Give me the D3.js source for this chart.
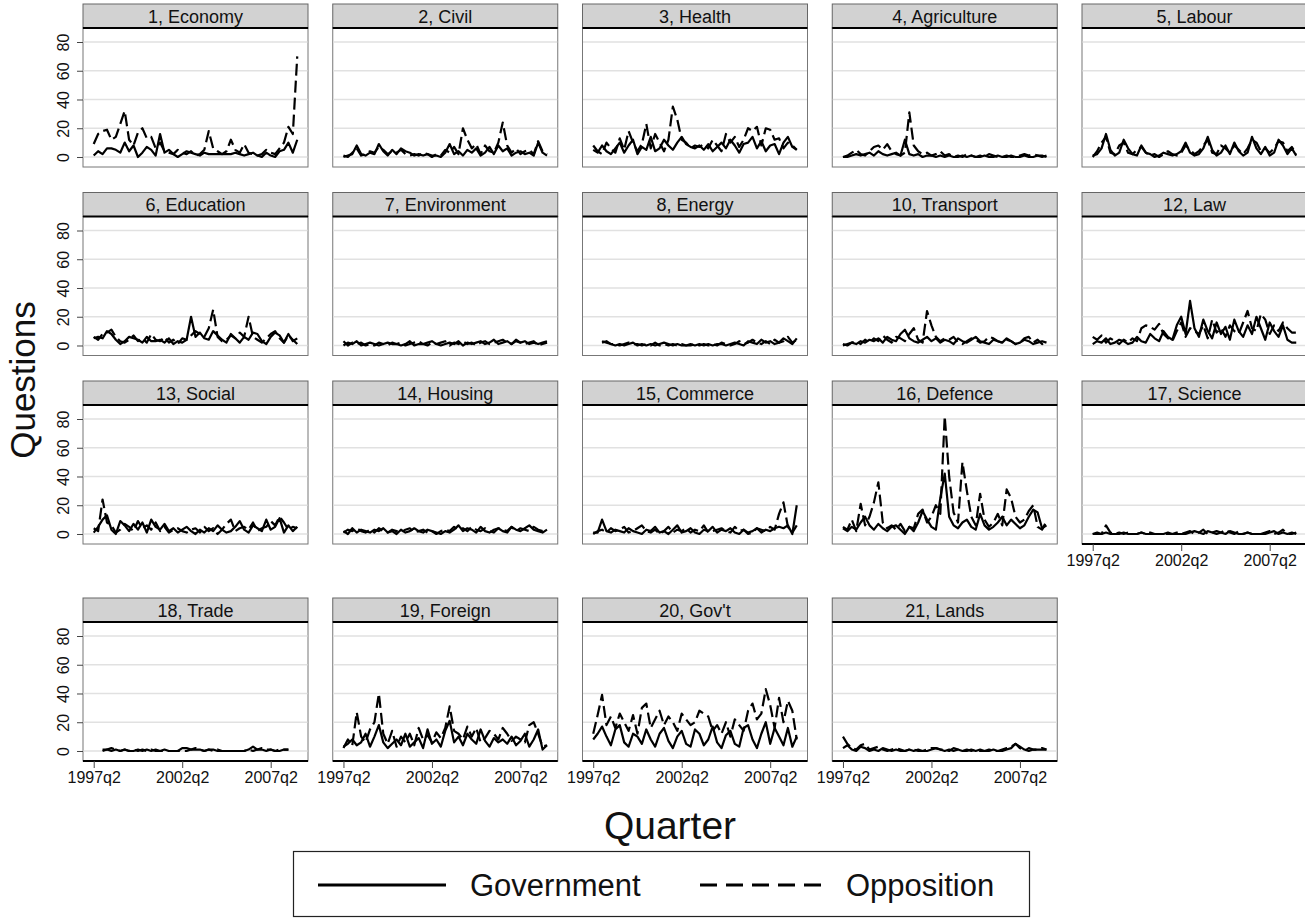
<!DOCTYPE html>
<html>
<head>
<meta charset="utf-8">
<script src="https://cdn.jsdelivr.net/npm/d3@7/dist/d3.min.js"></script>
<style>
  body { margin: 0; background: #fff; }
  svg { display: block; font-family: "Liberation Sans", Arial, sans-serif; }
</style>
</head>
<body>
<svg width="1305" height="921"></svg>
<script>
// quarters 1997q2 .. 2008q4 (47 quarters), index 0..46
const nQuarters = 47;
const tickQuarters = [0, 20, 40];
const tickLabels = ["1997q2", "2002q2", "2007q2"];
const yTicks = [0, 20, 40, 60, 80];

const topics = [
  "1, Economy", "2, Civil", "3, Health", "4, Agriculture", "5, Labour",
  "6, Education", "7, Environment", "8, Energy", "10, Transport", "12, Law",
  "13, Social", "14, Housing", "15, Commerce", "16, Defence", "17, Science",
  "18, Trade", "19, Foreign", "20, Gov't", "21, Lands"
];

const n = null;

const govEconomy = [1,4,2,6,6,5,3,10,4,8, 0,3,7,5,1,16,3,5,2,0, 2,4,3,2,1,3,2,2,2,2, 2,2,3,2,1,2,3,1,0,3, 1,0,4,5,10,3,12];
const oppEconomy = [9,16,18,19,12,14,23,32,12,8, 17,20,13,14,6,10,4,3,2,5, 3,2,4,1,2,5,18,6,4,2, 4,12,5,3,9,3,2,1,2,5, 3,2,6,10,21,16,70];
const govCivil = [0,1,2,8,2,1,3,2,9,4, 1,5,2,6,4,3,1,2,1,2, 1,1,0,3,9,2,4,1,5,3, 6,1,3,7,2,8,4,6,1,3, 4,2,3,1,10,3,1];
const oppCivil = [1,0,3,6,1,2,4,3,7,5, 2,4,3,5,2,1,2,1,3,2, 0,2,1,5,3,7,2,20,12,6, 9,2,8,4,3,10,24,8,3,6, 2,4,5,2,11,4,2];
const govHealth = [5,3,8,4,2,6,10,3,8,12, 2,7,5,14,4,6,12,8,5,10, 14,9,7,6,8,5,9,4,7,10, 6,12,8,3,9,10,14,6,11,4, 8,9,2,10,14,7,5];
const oppHealth = [8,4,2,10,6,3,13,5,18,10, 4,9,23,6,16,10,4,12,35,26, 12,10,6,8,7,9,6,12,8,4, 16,10,14,7,12,20,18,21,8,20, 19,12,13,6,10,8,5];
const govAgriculture = [0,0,1,2,1,2,3,1,4,2, 1,2,3,1,12,2,1,2,0,1, 1,0,1,0,1,0,0,1,0,1, 0,0,1,0,0,1,0,0,1,0, 0,1,0,0,1,1,0];
const oppAgriculture = [0,1,3,5,2,1,4,7,8,5, 9,4,2,1,3,31,8,4,2,3, 1,2,4,1,2,0,1,0,2,1, 0,1,0,2,1,0,0,1,0,0, 1,2,1,2,1,0,1];
const govLabour = [1,2,6,16,5,1,3,12,6,2, 1,8,3,2,0,1,3,2,1,2, 4,10,3,1,2,6,14,5,1,3, 8,2,10,4,1,3,14,6,2,7, 1,3,12,8,2,6,1];
const oppLabour = [0,4,10,14,3,2,8,10,3,2, 5,7,3,1,2,0,2,4,2,1, 3,8,5,2,4,8,12,3,2,8, 6,3,8,5,2,6,12,10,4,6, 3,6,11,10,4,7,2];
const govEducation = [5,6,5,10,8,4,1,3,6,5, 4,2,6,3,3,4,2,5,1,3, 2,4,20,6,9,5,4,10,7,4, 2,8,5,2,6,4,9,8,3,1, 6,9,7,2,8,3,5];
const oppEducation = [6,4,8,9,11,6,3,2,4,7, 3,5,2,8,4,3,6,2,4,1, 5,4,7,10,8,6,12,25,6,3, 4,7,5,9,6,20,6,4,2,5, 8,10,5,2,7,4,1];
const govEnvironment = [0,2,1,3,0,1,2,1,0,1, 2,1,1,0,1,3,0,1,1,2, 3,1,0,1,2,1,3,0,2,1, 2,3,1,2,4,1,2,3,1,4, 2,3,1,2,1,2,3];
const oppEnvironment = [3,0,2,1,2,0,1,0,2,1, 0,2,1,2,0,1,2,3,1,0, 2,1,2,3,0,2,1,3,1,2, 0,2,3,1,2,3,4,2,1,3, 2,1,2,3,0,1,2];
const govEnergy = [n,n,3,2,1,0,1,0,1,2, 0,1,0,1,0,1,2,1,0,1, 0,0,1,0,1,0,1,0,1,1, 0,1,2,1,0,3,2,1,4,2, 3,1,2,5,3,1,5];
const oppEnergy = [n,n,2,3,1,1,0,1,2,1, 1,0,1,0,2,0,1,0,1,0, 1,0,0,1,0,1,0,1,0,2, 1,0,1,3,1,2,4,2,1,3, 1,4,2,3,6,2,4];
const govTransport = [0,1,2,1,3,2,4,3,5,2, 6,4,3,8,11,5,3,2,4,6, 3,5,2,4,3,1,5,3,2,4, 6,3,2,1,4,3,2,5,3,1, 2,4,3,1,2,3,2];
const oppTransport = [1,0,2,3,1,4,2,5,3,7, 4,2,6,5,3,8,12,4,2,24, 14,6,3,5,4,6,2,1,3,5, 4,2,3,6,5,3,2,4,3,1, 2,5,6,2,4,1,3];
const govLaw = [1,3,2,5,1,2,4,3,1,2, 6,3,2,8,5,3,10,6,4,14, 20,8,31,12,6,18,10,5,16,8, 13,4,18,10,6,14,8,20,12,4, 16,10,6,14,4,2,2];
const oppLaw = [6,4,7,2,5,3,1,4,2,5, 3,12,14,13,11,15,8,5,3,10, 16,6,12,10,8,14,5,18,9,12, 6,14,10,8,16,24,12,10,22,18, 8,14,10,16,12,9,9];
const govSocial = [1,5,10,13,3,0,9,6,2,7, 3,8,1,10,5,3,7,2,4,1, 3,5,2,0,3,1,4,2,6,3, 1,2,5,9,3,1,6,4,2,10, 3,5,11,1,6,2,5];
const oppSocial = [4,2,24,8,6,1,3,7,5,2, 9,4,6,3,8,2,5,1,3,4, 2,1,3,4,1,5,2,4,0,3, 7,10,2,4,5,3,8,2,4,5, 9,6,12,8,3,5,4];
const govHousing = [2,0,4,1,3,2,1,3,2,4, 1,2,0,3,1,2,4,2,1,3, 2,1,0,2,1,3,6,2,4,3, 1,5,2,1,3,4,2,1,5,3, 2,4,6,3,2,1,3];
const oppHousing = [1,3,2,4,2,1,3,1,4,2, 1,3,2,1,3,4,1,2,3,1, 2,0,2,3,2,5,3,4,2,5, 3,2,4,2,1,4,3,2,5,2, 4,3,2,5,3,2,3];
const govCommerce = [1,1,10,2,1,3,2,1,4,2, 1,0,3,2,5,1,2,0,3,6, 1,2,4,1,0,3,2,5,1,3, 2,4,1,0,3,1,2,4,1,3, 2,4,5,4,6,0,20];
const oppCommerce = [0,2,3,1,4,2,3,5,1,2, 4,6,2,1,3,0,2,5,1,3, 2,4,1,3,2,6,1,2,3,4, 2,1,5,2,3,0,1,4,3,2, 5,3,14,22,5,1,6];
const govDefence = [4,2,5,3,8,12,6,3,7,4, 2,5,6,3,0,5,2,8,16,10, 5,3,25,42,12,6,4,8,10,5, 3,14,6,3,5,8,12,6,10,7, 4,6,12,17,15,4,6];
const oppDefence = [5,3,10,2,21,6,12,22,36,8, 4,6,3,7,2,5,4,14,17,8, 12,20,14,82,40,15,8,50,30,12, 6,28,10,5,8,14,6,31,25,12, 8,10,16,20,5,3,9];
const govScience = [0,0,0,1,0,0,0,1,0,0, 0,1,0,0,0,0,0,1,0,0, 0,0,1,2,1,0,2,1,0,1, 0,2,1,0,0,1,0,0,0,0, 1,2,0,1,0,1,0];
const oppScience = [0,1,0,6,1,0,1,0,1,0, 0,1,0,1,0,0,0,0,0,1, 0,1,2,0,1,3,0,1,2,1, 3,1,0,2,0,1,0,0,0,1, 2,0,1,3,0,0,1];
const govTrade = [n,n,1,1,0,1,0,1,0,0, 1,0,1,0,1,0,1,0,0,0, 2,2,1,1,1,0,1,1,0,0, 0,0,0,0,0,1,3,1,1,0, 1,0,0,1,1,n,n];
const oppTrade = [n,n,0,1,2,1,0,1,0,1, 0,1,0,1,0,0,0,0,0,0, 0,0,1,2,1,0,1,0,1,0, 0,0,0,0,0,1,0,1,2,1, 1,0,1,1,1,n,n];
const govForeign = [3,5,8,4,6,12,3,10,18,6, 2,5,8,4,12,3,6,9,2,15, 5,8,3,14,21,6,10,4,12,8, 5,15,7,3,9,6,8,5,10,4, 7,12,3,8,15,1,4];
const oppForeign = [2,8,4,27,10,6,15,20,40,12, 5,14,3,10,6,12,4,16,8,11, 6,13,9,16,31,14,12,8,17,10, 16,6,9,14,12,8,16,12,7,10, 8,6,18,20,12,3,4];
const govGovt = [8,12,17,10,4,15,18,6,3,12, 10,5,15,8,3,12,16,7,2,10, 14,5,3,15,12,4,8,17,6,2, 11,14,5,3,16,18,8,2,12,20, 5,16,10,4,16,3,10];
const oppGovt = [12,25,39,18,24,16,26,20,14,25, 12,30,33,16,22,28,18,24,20,14, 26,22,18,20,28,26,24,14,18,12, 20,10,22,18,14,28,33,22,26,43, 32,16,37,20,35,28,8];
const govLands = [2,4,1,0,3,2,0,1,0,2, 1,0,1,0,0,1,0,1,0,0, 1,2,1,0,1,0,1,0,0,1, 0,1,0,0,1,0,0,1,2,5, 3,1,0,1,1,1,1];
const oppLands = [10,5,2,1,4,5,1,2,3,1, 0,1,2,1,0,1,1,0,0,1, 2,2,1,1,0,2,1,0,1,0, 1,0,0,1,0,0,1,2,3,5, 2,0,2,1,1,2,1];

const govSeries = [govEconomy, govCivil, govHealth, govAgriculture, govLabour,
  govEducation, govEnvironment, govEnergy, govTransport, govLaw,
  govSocial, govHousing, govCommerce, govDefence, govScience,
  govTrade, govForeign, govGovt, govLands];
const oppSeries = [oppEconomy, oppCivil, oppHealth, oppAgriculture, oppLabour,
  oppEducation, oppEnvironment, oppEnergy, oppTransport, oppLaw,
  oppSocial, oppHousing, oppCommerce, oppDefence, oppScience,
  oppTrade, oppForeign, oppGovt, oppLands];

const panels = topics.map((t, k) => ({ title: t, gov: govSeries[k], opp: oppSeries[k], k }));

const svg = d3.select("svg");

const panelW = 225;
const headerH = 24;
const plotH = 139;
const colStep = 249.75;
const left0 = 83;
const rowTops = [4, 192.5, 381, 598];

const x = d3.scaleLinear().domain([-2.42, 48.43]).range([0, panelW]);
const y = d3.scaleLinear().domain([-6.96, 89.74]).range([plotH, 0]);

const line = d3.line()
  .defined((d) => d != null)
  .x((d, i) => x(i))
  .y((d) => y(d));

const g = svg.selectAll("g.panel")
  .data(panels)
  .join("g")
  .attr("class", "panel")
  .attr("transform", (d) => `translate(${left0 + (d.k % 5) * colStep}, ${rowTops[Math.floor(d.k / 5)]})`);

g.each(function (d) {
  const p = d3.select(this);

  // header strip
  p.append("rect")
    .attr("x", 0).attr("y", 0)
    .attr("width", panelW).attr("height", headerH)
    .attr("fill", "#d2d2d2").attr("stroke", "#666").attr("stroke-width", 1);
  p.append("text")
    .attr("x", panelW / 2).attr("y", 18.5)
    .attr("text-anchor", "middle")
    .attr("font-size", 18)
    .attr("fill", "#111")
    .text(d.title);

  const plot = p.append("g").attr("transform", `translate(0, ${headerH})`);

  plot.append("rect")
    .attr("width", panelW).attr("height", plotH)
    .attr("fill", "#fff").attr("stroke", "#777").attr("stroke-width", 1);

  plot.selectAll("line.grid")
    .data(yTicks)
    .join("line")
    .attr("class", "grid")
    .attr("x1", 0.5).attr("x2", panelW - 0.5)
    .attr("y1", (v) => y(v)).attr("y2", (v) => y(v))
    .attr("stroke", "#e1e1e1").attr("stroke-width", 1.6);

  // header bottom rule
  plot.append("line")
    .attr("x1", 0).attr("x2", panelW)
    .attr("y1", 0).attr("y2", 0)
    .attr("stroke", "#000").attr("stroke-width", 2);

  plot.append("path")
    .attr("d", line(d.gov))
    .attr("fill", "none").attr("stroke", "#000")
    .attr("stroke-width", 2.2).attr("stroke-linejoin", "round");

  plot.append("path")
    .attr("d", line(d.opp))
    .attr("fill", "none").attr("stroke", "#000")
    .attr("stroke-width", 2.2).attr("stroke-linejoin", "round")
    .attr("stroke-dasharray", "12,5");

  if (d.k % 5 === 0) {
    const ya = plot.append("g").call(d3.axisLeft(y).tickValues(yTicks).tickSize(6).tickFormat(d3.format("d")));
    ya.select(".domain").remove();
    ya.selectAll(".tick line").attr("stroke", "#444");
    ya.selectAll(".tick text")
      .attr("font-size", 16).attr("fill", "#111")
      .attr("font-family", null)
      .attr("transform", "rotate(-90)")
      .attr("x", 0).attr("y", -14)
      .attr("dy", 0)
      .attr("text-anchor", "middle");
  }

  if (d.k >= 14) {
    const xa = plot.append("g")
      .attr("transform", `translate(0, ${plotH})`)
      .call(d3.axisBottom(x).tickValues(tickQuarters).tickSize(7).tickFormat((v, i) => tickLabels[i]));
    xa.select(".domain").attr("stroke", "#000").attr("stroke-width", 2).attr("d", `M0,0H${panelW}`);
    xa.selectAll(".tick line").attr("stroke", "#444");
    xa.selectAll(".tick text")
      .attr("font-size", 16).attr("fill", "#111")
      .attr("font-family", null)
      .attr("y", 11);
  }
});

// axis titles
svg.append("text")
  .attr("transform", "translate(35, 380) rotate(-90)")
  .attr("text-anchor", "middle")
  .attr("font-size", 35)
  .attr("fill", "#111")
  .text("Questions");

svg.append("text")
  .attr("x", 670).attr("y", 839)
  .attr("text-anchor", "middle")
  .attr("font-size", 39)
  .attr("fill", "#111")
  .text("Quarter");

// legend
const legend = svg.append("g");
legend.append("rect")
  .attr("x", 293.5).attr("y", 851.5)
  .attr("width", 736).attr("height", 65)
  .attr("fill", "#fff").attr("stroke", "#222").attr("stroke-width", 1.2);
legend.append("line")
  .attr("x1", 318).attr("x2", 446).attr("y1", 885).attr("y2", 885)
  .attr("stroke", "#000").attr("stroke-width", 3.2);
legend.append("text")
  .attr("x", 470).attr("y", 896)
  .attr("font-size", 31).attr("fill", "#111")
  .text("Government");
legend.append("line")
  .attr("x1", 700).attr("x2", 823).attr("y1", 885).attr("y2", 885)
  .attr("stroke", "#000").attr("stroke-width", 3.2)
  .attr("stroke-dasharray", "17,9");
legend.append("text")
  .attr("x", 846).attr("y", 896)
  .attr("font-size", 31).attr("fill", "#111")
  .text("Opposition");
</script>
</body>
</html>
